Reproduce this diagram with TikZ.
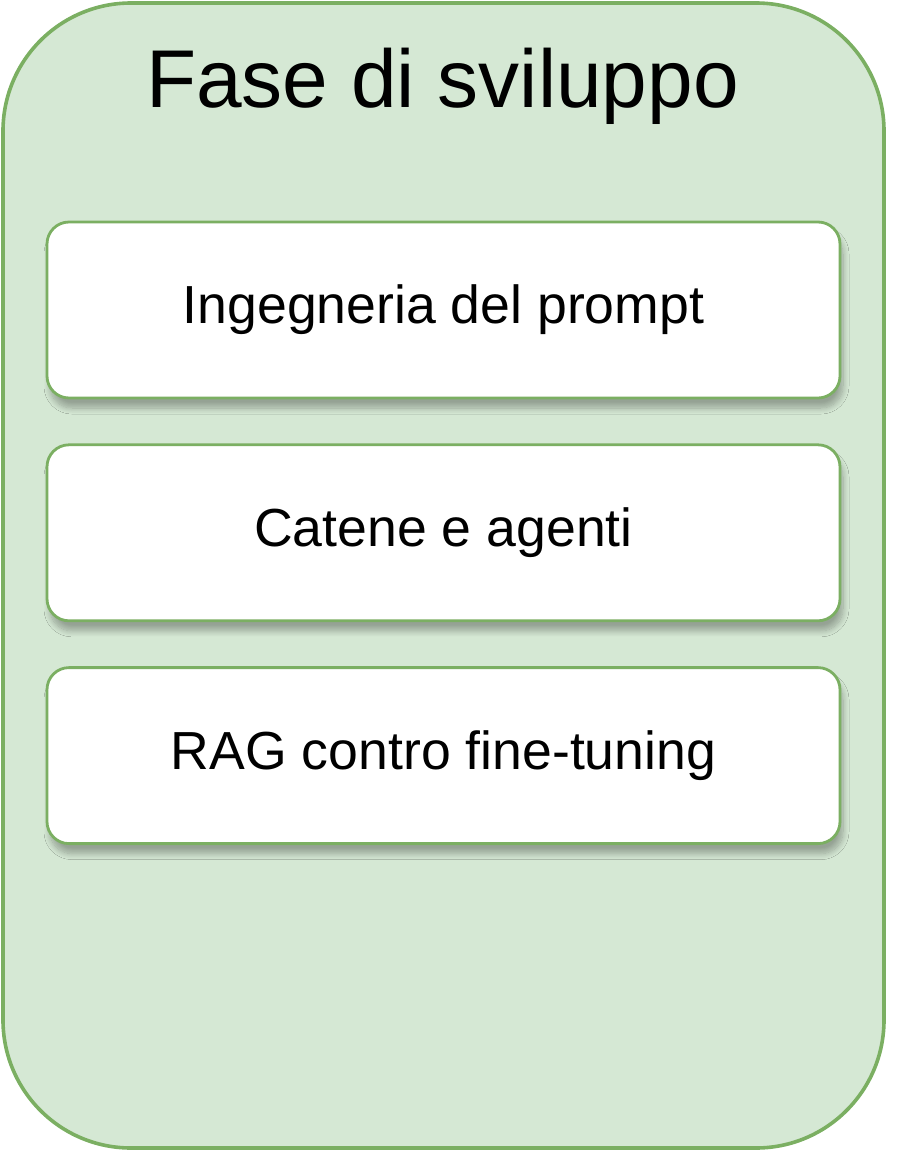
\documentclass[tikz,border=0pt]{standalone}
\usepackage{fontspec}
\setmainfont{Liberation Sans}
\usetikzlibrary{positioning,shadows.blur}
\definecolor{fasefill}{HTML}{D5E8D4}
\definecolor{faseline}{HTML}{7BAF62}
\tikzset{
  topic/.style={draw=faseline, line width=1.4pt, fill=white, rounded corners=11pt,
    minimum width=396.5pt, minimum height=88pt, inner sep=0pt,
    font=\fontsize{26.8}{32}\selectfont,
    blur shadow={shadow xshift=1.5pt, shadow yshift=-5pt, shadow blur steps=10,
      shadow blur radius=3pt, shadow opacity=30}}
}
\begin{document}
\begin{tikzpicture}[x=0.5pt,y=-0.5pt]
\useasboundingbox (0,0) rectangle (922,1152);
\draw[faseline, fill=fasefill, line width=1.8pt, rounded corners=64pt] (3,3) rectangle (884,1148);
\node[font=\fontsize{41}{48}\selectfont] (title) at (442.5,86) {Fase di sviluppo};
\node[topic] (prompt) at (443.5,310) {Ingegneria del prompt};
\node[topic, below=22pt of prompt] (catene) {Catene e agenti};
\node[topic, below=22pt of catene] (rag) {RAG contro fine-tuning};
\end{tikzpicture}
\end{document}
